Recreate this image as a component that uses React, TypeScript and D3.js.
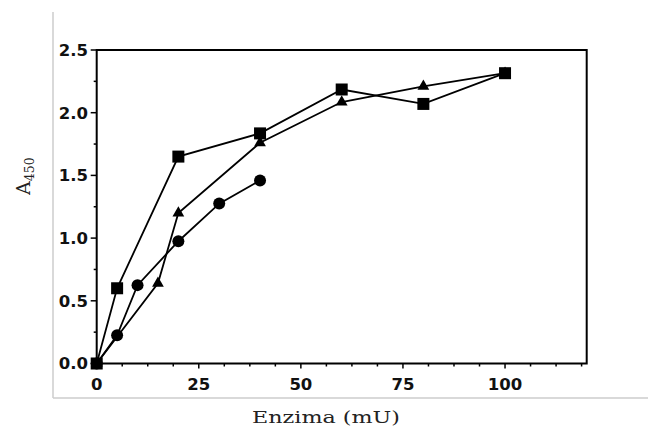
import React from "react";
import * as d3 from "d3";

const squareX = [0, 5, 20, 40, 60, 80, 100];
const squareY = [0, 0.6, 1.65, 1.835, 2.185, 2.07, 2.315];
const triangleX = [0, 15, 20, 40, 60, 80, 100];
const triangleY = [0, 0.64, 1.2, 1.76, 2.085, 2.21, 2.315];
const circleX = [0, 5, 10, 20, 30, 40];
const circleY = [0, 0.225, 0.625, 0.975, 1.275, 1.46];

const xMajorTicks = [0, 25, 50, 75, 100];
const yMajorTicks = [0, 0.5, 1.0, 1.5, 2.0, 2.5];
const yTickLabels = ["0.0", "0.5", "1.0", "1.5", "2.0", "2.5"];
const xLabel = "Enzima (mU)";

const W = 648;
const H = 429;

export default function App() {
  const x = d3.scaleLinear().domain([0, 120]).range([96.7, 586.7]);
  const y = d3.scaleLinear().domain([0, 2.5]).range([363.5, 50]);

  const xMinor = d3.range(0, 120, 6.25).filter((v) => xMajorTicks.indexOf(v) < 0);
  const yMinor = d3.range(0.25, 2.5, 0.5);

  const line = d3
    .line<[number, number]>()
    .x((d) => x(d[0]))
    .y((d) => y(d[1]));

  const sq = squareX.map((v, i) => [v, squareY[i]] as [number, number]);
  const tr = triangleX.map((v, i) => [v, triangleY[i]] as [number, number]);
  const ci = circleX.map((v, i) => [v, circleY[i]] as [number, number]);

  const triPath = d3.symbol().type(d3.symbolTriangle).size(60)()!;

  const tickFont = "'DejaVu Sans', sans-serif";

  return (
    <div style={{ position: "absolute", left: 0, top: 0 }}>
      <svg width={W} height={H} style={{ display: "block", background: "#fff" }}>
        {/* gray frame */}
        <line x1={53} y1={12} x2={53} y2={398} stroke="#cccccc" strokeWidth={1.5} />
        <line x1={53} y1={398} x2={W} y2={398} stroke="#cccccc" strokeWidth={1.5} />

        {/* plot box */}
        <rect
          x={x(0)}
          y={y(2.5)}
          width={x(120) - x(0)}
          height={y(0) - y(2.5)}
          fill="none"
          stroke="#000"
          strokeWidth={2}
        />

        {/* x ticks */}
        {xMajorTicks.map((v) => (
          <g key={"xm" + v}>
            <line x1={x(v)} x2={x(v)} y1={y(0)} y2={y(0) + 5} stroke="#000" strokeWidth={1.5} />
            <text
              x={x(v)}
              y={390}
              textAnchor="middle"
              fontFamily={tickFont}
              fontWeight="bold"
              fontSize={16.5}
              fill="#111"
            >
              {v}
            </text>
          </g>
        ))}
        {xMinor.map((v) => (
          <line key={"xn" + v} x1={x(v)} x2={x(v)} y1={y(0)} y2={y(0) + 3} stroke="#000" strokeWidth={1.5} />
        ))}

        {/* y ticks */}
        {yMajorTicks.map((v, i) => (
          <g key={"ym" + v}>
            <line x1={x(0) - 6} x2={x(0)} y1={y(v)} y2={y(v)} stroke="#000" strokeWidth={1.5} />
            <text
              x={88}
              y={y(v)}
              dy="0.36em"
              textAnchor="end"
              fontFamily={tickFont}
              fontWeight="bold"
              fontSize={16.5}
              fill="#111"
            >
              {yTickLabels[i]}
            </text>
          </g>
        ))}
        {yMinor.map((v) => (
          <line key={"yn" + v} x1={x(0) - 3} x2={x(0)} y1={y(v)} y2={y(v)} stroke="#000" strokeWidth={1.5} />
        ))}

        {/* series lines */}
        <path d={line(tr)!} fill="none" stroke="#000" strokeWidth={1.8} />
        <path d={line(ci)!} fill="none" stroke="#000" strokeWidth={1.8} />
        <path d={line(sq)!} fill="none" stroke="#000" strokeWidth={1.8} />

        {/* markers */}
        {tr.map((d, i) => (
          <path key={"t" + i} d={triPath} transform={`translate(${x(d[0])},${y(d[1])})`} fill="#000" />
        ))}
        {ci.map((d, i) => (
          <circle key={"c" + i} cx={x(d[0])} cy={y(d[1])} r={6} fill="#000" />
        ))}
        {sq.map((d, i) => (
          <rect key={"s" + i} x={x(d[0]) - 6} y={y(d[1]) - 6} width={12} height={12} fill="#000" />
        ))}

        {/* axis titles */}
        <text
          x={326}
          y={423}
          textAnchor="middle"
          fontFamily="'DejaVu Serif', serif"
          fontSize={17}
          textLength={148}
          lengthAdjust="spacingAndGlyphs"
          fill="#222"
        >
          {xLabel}
        </text>
        <g transform="translate(30,195) rotate(-90)">
          <text x={0} y={0} fontFamily="'DejaVu Serif', serif" fontSize={19} fill="#222">
            A
            <tspan dy={4} fontSize={12.5}>
              450
            </tspan>
          </text>
        </g>
      </svg>
    </div>
  );
}
